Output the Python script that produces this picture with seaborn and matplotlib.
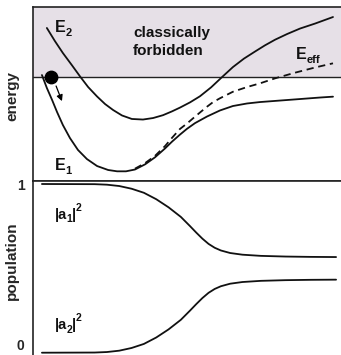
import matplotlib
matplotlib.use("Agg")
import matplotlib.pyplot as plt
import seaborn as sns
import pandas as pd

# ---- data (arbitrary units; position 0..100, energy: E1 minimum = 0, total energy = 100)
x_e1 = [2.9, 4.5, 6.2, 7.8, 9.7, 12.0, 14.6, 17.5, 20.8, 24.4, 27.3, 30.2, 33.1, 36.4,
        39.6, 42.9, 45.1, 47.7, 50.0, 52.6, 56.5, 60.7, 64.9, 69.5, 73.7, 80.2, 86.7, 93.2, 97.4]
e1 = [102.1, 88.4, 75.7, 63.0, 49.2, 35.4, 22.8, 13.2, 5.8, 1.6, 0.2, 0.2, 2.1, 7.6,
      15.0, 24.5, 31.5, 39.0, 45.2, 51.2, 58.2, 64.6, 69.3, 72.0, 73.5, 75.1, 76.7, 78.3, 79.2]

x_e2 = [4.5, 7.1, 9.7, 12.7, 15.3, 17.9, 20.8, 23.4, 26.0, 28.9, 32.1, 35.7, 39.0, 42.2,
        45.1, 47.7, 51.0, 54.2, 57.8, 61.4, 64.9, 68.5, 72.1, 75.3, 78.6, 82.5, 86.7, 91.6, 97.4]
e2 = [151.9, 138.1, 125.4, 112.2, 100.5, 89.4, 79.4, 71.4, 65.1, 59.3, 55.6, 55.0, 56.6, 59.6,
      63.6, 67.6, 73.2, 79.6, 89.0, 100.0, 110.5, 119.5, 127.0, 133.5, 139.5, 145.5, 151.3, 156.6, 163.5]

x_eff = [33.1, 36.4, 39.6, 42.9, 45.1, 47.7, 50.0, 51.9, 54.2, 56.5, 58.4, 60.7, 64.9,
         69.5, 73.7, 78.6, 85.1, 91.6, 97.4]
e_eff = [3.0, 8.9, 16.5, 27.0, 35.5, 45.0, 50.8, 56.1, 62.4, 68.6, 73.3, 77.5, 84.4,
         89.4, 93.3, 98.6, 104.6, 110.1, 114.5]

total_energy = 100.0
ball_x, ball_e = 5.8, 100.0

x_pop = [2.9, 20, 24, 28, 32, 36, 40, 44, 48, 51, 53, 55, 57, 59, 61, 64, 68, 74, 82, 90, 98.4]
a1_sq = [1.0, 0.999, 0.996, 0.988, 0.972, 0.948, 0.910, 0.862, 0.805, 0.750, 0.712, 0.676,
         0.645, 0.622, 0.606, 0.591, 0.581, 0.574, 0.570, 0.568, 0.567]
a2_sq = [0.0, 0.001, 0.004, 0.012, 0.028, 0.052, 0.090, 0.138, 0.195, 0.250, 0.288, 0.324,
         0.355, 0.378, 0.394, 0.409, 0.419, 0.426, 0.430, 0.432, 0.433]

sns.set_style("white")
plt.rcParams["font.family"] = ["Liberation Sans", "DejaVu Sans"]
plt.rcParams["font.weight"] = "bold"

W, H = 341, 355
fig = plt.figure(figsize=(W / 100, H / 100), dpi=100)
ax1 = fig.add_axes([33 / W, (H - 181) / H, 308 / W, 174 / H])
ax2 = fig.add_axes([33 / W, 0, 308 / W, 174 / H])


def label(ax, x, y, parts):
    """parts: list of (text, fontsize, dx_pt, dy_pt) placed at a baseline point."""
    for txt, fs, dx, dy in parts:
        ax.annotate(txt, xy=(x, y), xytext=(dx, dy), textcoords="offset points",
                    fontsize=fs, fontweight="bold", ha="left", va="baseline",
                    color="#111111", annotation_clip=False)


lw = 1.3
ink = "#111111"
# ---- top panel
ax1.axhspan(total_energy, 200, color="#e6e0e7", zorder=0, lw=0)
ax1.axhline(total_energy, color="#222222", lw=1.0, zorder=1)
sns.lineplot(x=x_e1, y=e1, ax=ax1, color=ink, lw=lw, sort=False, zorder=3)
sns.lineplot(x=x_e2, y=e2, ax=ax1, color=ink, lw=lw, sort=False, zorder=3)
sns.lineplot(x=x_eff, y=e_eff, ax=ax1, color=ink, lw=lw, sort=False,
             linestyle=(0, (4, 2.6)), zorder=3)
ax1.scatter([ball_x], [ball_e], s=80, color="black", zorder=5)
ax1.annotate("", xy=(9.4, 74.5), xytext=(7.5, 90.5),
             arrowprops=dict(arrowstyle="-|>,head_length=0.35,head_width=0.18",
                             color="black", lw=0.9, shrinkA=0, shrinkB=0))
ax1.set_xlim(0, 100)
ax1.set_ylim(-10.05, 174.1)
ax1.set_xticks([])
ax1.set_yticks([])
ax1.set_ylabel("energy", fontsize=11, fontweight="bold")
ax1.yaxis.set_label_coords(-0.045, 0.49)

fsE, fsS = 11.5, 8.0
label(ax1, 7.1, 147.6, [("E", fsE, 0, 0), ("2", fsS, 7.6, -2.8)])
label(ax1, 7.1, 1.6, [("E", fsE, 0, 0), ("1", fsS, 7.6, -2.8)])
label(ax1, 85.4, 119.0, [("E", fsE, 0, 0), ("eff", fsS, 7.6, -2.8)])
ax1.text(32.5, 137.0, "classically\nforbidden", fontsize=11, fontweight="bold",
         va="center", ha="left", linespacing=1.32, color=ink)

ax1.spines["right"].set_visible(False)
for s in ["left", "top", "bottom"]:
    ax1.spines[s].set_color("#222222")
    ax1.spines[s].set_linewidth(1.2)

# ---- bottom panel
df = pd.DataFrame({"x": x_pop, "a1": a1_sq, "a2": a2_sq})
sns.lineplot(data=df, x="x", y="a1", ax=ax2, color=ink, lw=lw)
sns.lineplot(data=df, x="x", y="a2", ax=ax2, color=ink, lw=lw)
ax2.set_xlim(0, 100)
ax2.set_ylim(-0.0136, 1.0178)
ax2.set_xticks([])
ax2.set_yticks([0, 1])
ax2.set_yticklabels(["0", "1"], fontsize=10, fontweight="bold")
ax2.get_yticklabels()[0].set_va("bottom")
ax2.tick_params(axis="y", length=0, pad=6)
ax2.set_xlabel("")
ax2.set_ylabel("population", fontsize=11, fontweight="bold")
ax2.yaxis.set_label_coords(-0.045, 0.54)

fsA, fsI = 10.5, 7.5
for yb, idx in [(0.793, "1"), (0.14, "2")]:
    label(ax2, 7.1, yb, [("|a", fsA, 0, 0), (idx, fsI, 8.2, -2.5),
                          ("|", fsA, 12.3, 0), ("2", fsI, 15.3, 5.5)])
for s in ["right", "bottom"]:
    ax2.spines[s].set_visible(False)
for s in ["left", "top"]:
    ax2.spines[s].set_color("#222222")
    ax2.spines[s].set_linewidth(1.2)

fig.savefig("out.png", dpi=100)
